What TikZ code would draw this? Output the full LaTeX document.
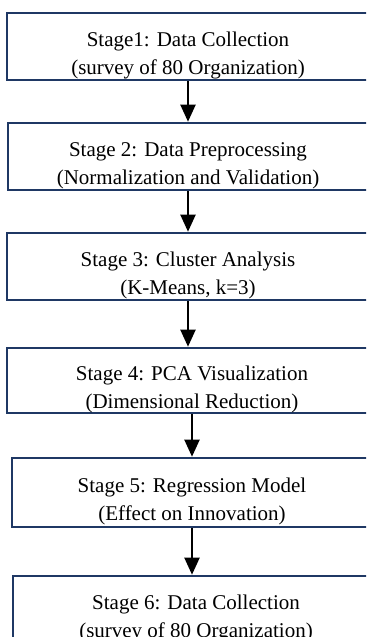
\documentclass[tikz,border=0pt]{standalone}
\usepackage{fontspec}
\setmainfont{Liberation Serif}
\usepackage{xcolor}
\usepackage{tikz}
\usetikzlibrary{arrows.meta, positioning}
\definecolor{stagenavy}{RGB}{31, 56, 100}
\newcommand{\stagepad}{\rule{0pt}{16pt}}

\begin{document}
\begin{tikzpicture}[
    node distance=20.2pt,
    every node/.style={font=\fontsize{10.5pt}{14pt}\selectfont},
    stagebox/.style={rectangle, draw=stagenavy, line width=1.3pt, minimum width=181pt, minimum height=33.5pt, inner ysep=0pt, align=center},
    arrow/.style={-{Triangle[length=8.5pt, width=7.5pt]}, line width=1pt}
]
\useasboundingbox (0,0) rectangle (183pt,-318.5pt);
\clip (0,0) rectangle (183pt,-318.5pt);

% Stages
\node[stagebox] (s1) at (94pt,-23.25pt) {\stagepad Stage1: Data Collection\\(survey of 80 Organization)};
\node[stagebox, minimum width=180pt, below=of s1] (s2) {\stagepad Stage 2: Data Preprocessing\\(Normalization and Validation)};
\node[stagebox, below=of s2] (s3) {\stagepad Stage 3: Cluster Analysis\\(K-Means, k=3)};
\node[stagebox, minimum width=185pt, minimum height=32.5pt, below=22.7pt of s3, xshift=2pt] (s4) {\stagepad Stage 4: PCA Visualization\\(Dimensional Reduction)};
\node[stagebox, minimum width=180pt, minimum height=34.5pt, below=21.2pt of s4] (s5) {\stagepad Stage 5: Regression Model\\(Effect on Innovation)};
\node[stagebox, minimum width=183pt, below=23.2pt of s5, xshift=2pt] (s6) {\stagepad Stage 6: Data Collection\\(survey of 80 Organization)};

% Arrows
\foreach \a/\b in {s1/s2, s2/s3, s3/s4, s4/s5, s5/s6}
    \draw[arrow] (\a.south) -- (\a.south |- \b.north);

\end{tikzpicture}
\end{document}
